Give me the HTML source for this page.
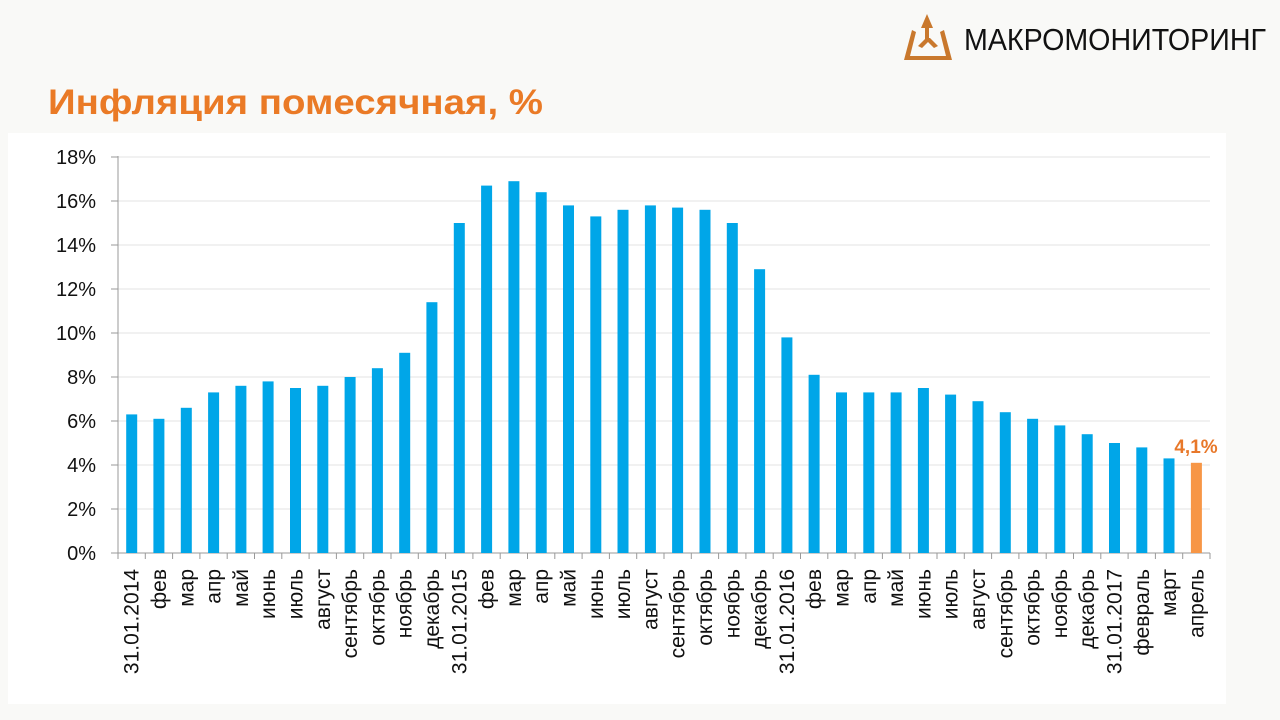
<!DOCTYPE html>
<html><head><meta charset="utf-8"><style>
html,body{margin:0;padding:0;background:#f9f9f7;}
svg{display:block;}
text{font-family:"Liberation Sans","DejaVu Sans",sans-serif;}
</style></head><body>
<svg id="c" width="1280" height="720" xmlns="http://www.w3.org/2000/svg">
<rect x="0" y="0" width="1280" height="720" fill="#f9f9f7"/>
<rect x="8" y="133" width="1218" height="571" fill="#ffffff"/>
<text x="48" y="114" font-size="35" font-weight="bold" fill="#ea7a26" textLength="495" lengthAdjust="spacingAndGlyphs">Инфляция помесячная, %</text>
<g fill="#c9782d">
<polygon points="927,14 921,28 925,28 925,42 929,42 929,28 933,28"/>
<polygon points="912,30 904,60 952,60 944,30 940,32 946,56 910,56 916,32"/>
<polygon points="918,46 926,38 930,38 938,46 934,48 928,42 922,48"/>
</g>
<text x="964" y="50" font-size="31" fill="#111" textLength="302" lengthAdjust="spacingAndGlyphs">МАКРОМОНИТОРИНГ</text>
<g id="g"></g>
</svg>
<script>
var vals=[6.3,6.1,6.6,7.3,7.6,7.8,7.5,7.6,8.0,8.4,9.1,11.4,15.0,16.7,16.9,16.4,15.8,15.3,15.6,15.8,15.7,15.6,15.0,12.9,9.8,8.1,7.3,7.3,7.3,7.5,7.2,6.9,6.4,6.1,5.8,5.4,5.0,4.8,4.3,4.1];
var labs=["31.01.2014","фев","мар","апр","май","июнь","июль","август","сентябрь","октябрь","ноябрь","декабрь","31.01.2015","фев","мар","апр","май","июнь","июль","август","сентябрь","октябрь","ноябрь","декабрь","31.01.2016","фев","мар","апр","май","июнь","июль","август","сентябрь","октябрь","ноябрь","декабрь","31.01.2017","февраль","март","апрель"];
var s='',x0=118,x1=1210,y0=553,k=22,step=(x1-x0)/40;
for(var i=0;i<=9;i++){var y=y0-i*2*k;
 if(i>0)s+='<line x1="'+x0+'" y1="'+y+'" x2="'+x1+'" y2="'+y+'" stroke="#e3e3e3" stroke-width="1"/>';
 s+='<line x1="111" y1="'+y+'" x2="'+x0+'" y2="'+y+'" stroke="#999" stroke-width="1"/>';
 s+='<text x="96" y="'+(y+7)+'" font-size="20" text-anchor="end" fill="#111">'+(i*2)+'%</text>';}
s+='<line x1="'+x0+'" y1="156" x2="'+x0+'" y2="'+y0+'" stroke="#999" stroke-width="1"/>';
s+='<line x1="'+x0+'" y1="'+y0+'" x2="'+x1+'" y2="'+y0+'" stroke="#999" stroke-width="1"/>';
for(var i=0;i<40;i++){var cx=x0+step*(i+0.5),h=vals[i]*k;
 s+='<rect x="'+(cx-5.5).toFixed(1)+'" y="'+(y0-h).toFixed(1)+'" width="11" height="'+h.toFixed(1)+'" fill="'+(i==39?'#f79646':'#00a6e8')+'"/>';
 s+='<text transform="translate('+(cx+7).toFixed(1)+',569) rotate(-90)" font-size="21" text-anchor="end" fill="#111">'+labs[i]+'</text>';}
for(var i=0;i<=40;i++){var tx=(x0+step*i).toFixed(1);s+='<line x1="'+tx+'" y1="'+y0+'" x2="'+tx+'" y2="'+(y0+6)+'" stroke="#999" stroke-width="1"/>';}
s+='<text x="1196" y="453" font-size="19" font-weight="bold" text-anchor="middle" fill="#e8782a">4,1%</text>';
document.getElementById('g').innerHTML=s;
</script>
</body></html>
